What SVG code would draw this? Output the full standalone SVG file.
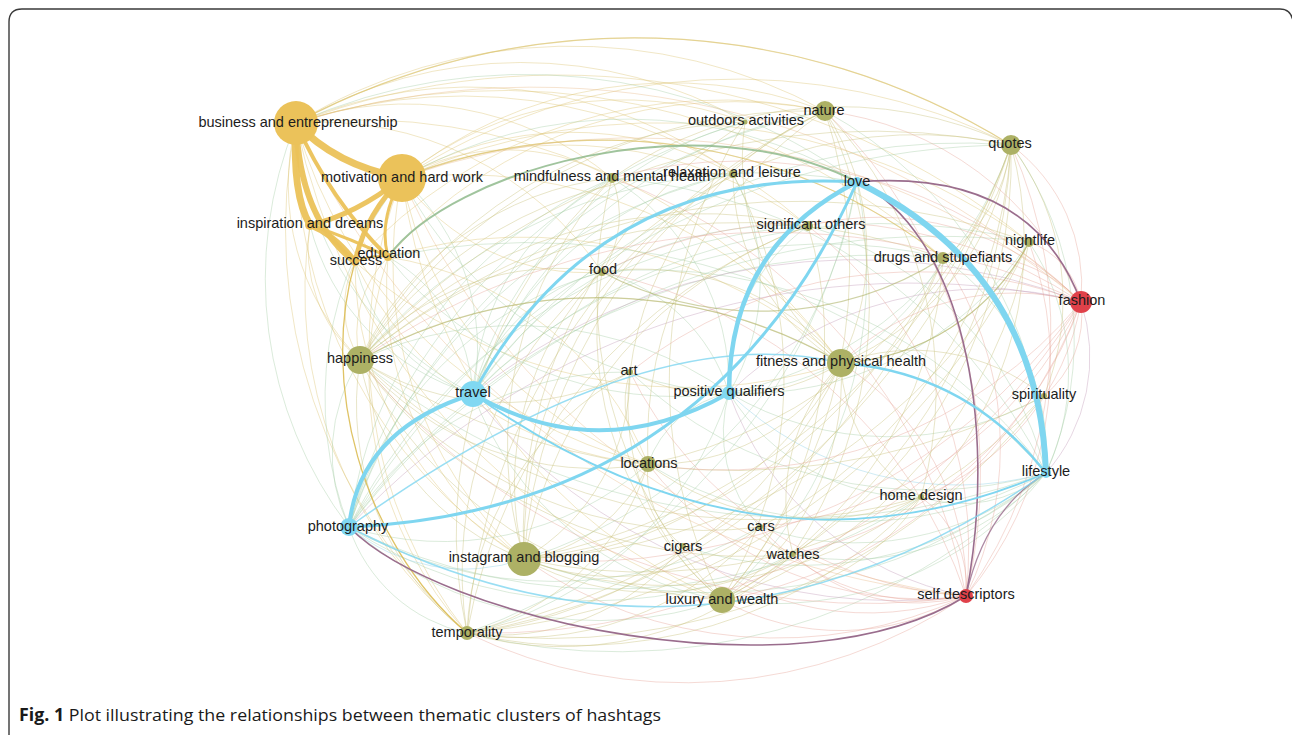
<svg xmlns="http://www.w3.org/2000/svg" width="1292" height="735" viewBox="0 0 1292 735">
<style>
.e path{fill:none;stroke-width:1}
.y path{stroke:#dcc370;stroke-opacity:.4}
.g path{stroke:#a6cca4;stroke-opacity:.4}
.o path{stroke:#c9c27c;stroke-opacity:.42}
.r path{stroke:#e6a396;stroke-opacity:.4}
.ro path{stroke:#e8b886;stroke-opacity:.4}
.p path{stroke:#c7a3bf;stroke-opacity:.45}
.b path{stroke:#9fd8ea;stroke-opacity:.5}
.gold{fill:#EBC25A}
.ol{fill:#ADB165}
.bl{fill:#80D8F2}
.rd{fill:#E0414A}
text.l{font-family:"Liberation Sans",Arial,sans-serif;font-size:14.5px;fill:#1c1c1c;text-anchor:middle}
</style>
<rect width="1292" height="735" fill="#fff"/>
<path d="M9 735V22Q9 9 22 9H1280Q1291 9 1293 21V735" fill="none" stroke="#3a3a3a" stroke-width="1.4"/>
<g id="connectors">
<g class="e y">
<path d="M296 123A715 715 0 0 1 1011 145"/><path d="M402 178A610 610 0 0 1 1011 145"/><path d="M296 123A530 530 0 0 1 825 111"/><path d="M402 178A430 430 0 0 1 825 111"/><path d="M388 257A460 460 0 0 1 825 111"/><path d="M355 262A495 495 0 0 1 825 111"/><path d="M296 123A450 450 0 0 1 745 122"/><path d="M402 178A350 350 0 0 1 745 122"/><path d="M296 123A440 440 0 0 1 733 174"/><path d="M402 178A335 335 0 0 1 733 174"/><path d="M296 123A325 325 0 0 1 612 178"/><path d="M402 178A210 210 0 0 1 612 178"/><path d="M296 123A340 340 0 0 1 602 272"/><path d="M402 178A225 225 0 0 0 602 272"/><path d="M296 123A525 525 0 0 1 808 226"/><path d="M402 178A410 410 0 0 1 808 226"/><path d="M296 123A665 665 0 0 1 943 258"/><path d="M402 178A550 550 0 0 1 943 258"/><path d="M296 123A745 745 0 0 1 1029 242"/><path d="M402 178A630 630 0 0 1 1029 242"/><path d="M296 123A600 600 0 0 1 841 363"/><path d="M402 178A480 480 0 0 1 841 363"/><path d="M388 257A465 465 0 0 1 841 363"/><path d="M355 262A500 500 0 0 0 841 363"/><path d="M296 123A490 490 0 0 0 648 464"/><path d="M402 178A380 380 0 0 0 648 464"/><path d="M355 262A360 360 0 0 0 648 464"/><path d="M388 257A335 335 0 0 1 648 464"/><path d="M310 225A145 145 0 0 0 360 360"/><path d="M355 262A100 100 0 0 0 360 360"/><path d="M388 257A110 110 0 0 0 360 360"/><path d="M360 360A250 250 0 0 1 296 123"/><path d="M467 633A540 540 0 0 1 296 123"/><path d="M467 633A460 460 0 0 1 402 178"/><path d="M467 633A385 385 0 0 1 388 257"/><path d="M467 633A440 440 0 0 1 310 225"/><path d="M524 559A495 495 0 0 1 296 123"/><path d="M524 559A400 400 0 0 1 402 178"/><path d="M524 559A335 335 0 0 1 388 257"/><path d="M524 559A345 345 0 0 1 355 262"/><path d="M722 600A640 640 0 0 1 296 123"/><path d="M722 600A530 530 0 0 1 402 178"/>
</g>
<g class="e g">
<path d="M296 123A565 565 0 0 1 857 182"/><path d="M402 178A455 455 0 0 1 857 182"/><path d="M402 178A395 395 0 0 0 729 393"/><path d="M388 257A370 370 0 0 0 729 393"/><path d="M402 178A230 230 0 0 1 473 394"/><path d="M296 123A325 325 0 0 0 473 394"/><path d="M310 225A235 235 0 0 0 473 394"/><path d="M355 262A180 180 0 0 0 473 394"/><path d="M388 257A165 165 0 0 1 473 394"/><path d="M349 527A410 410 0 0 1 296 123"/><path d="M349 527A355 355 0 0 1 402 178"/><path d="M1046 473A695 695 0 0 0 388 257"/>
<path d="M360 360A370 370 0 0 1 729 393"/><path d="M473 394A260 260 0 0 1 612 178"/><path d="M612 178A245 245 0 0 1 729 393"/><path d="M808 226A190 190 0 0 0 729 393"/><path d="M473 394A375 375 0 0 1 808 226"/><path d="M473 394A490 490 0 0 1 943 258"/><path d="M729 393A255 255 0 0 0 943 258"/><path d="M473 394A580 580 0 0 1 1029 242"/><path d="M729 393A340 340 0 0 0 1029 242"/><path d="M473 394A180 180 0 0 1 602 272"/><path d="M602 272A180 180 0 0 1 729 393"/><path d="M648 464A110 110 0 0 1 729 393"/><path d="M729 393A220 220 0 0 0 921 497"/><path d="M729 393A140 140 0 0 0 760 527"/><path d="M473 394A385 385 0 0 1 745 122"/><path d="M473 394A340 340 0 0 1 733 174"/><path d="M733 174A220 220 0 0 1 729 393"/><path d="M729 393A315 315 0 0 0 1044 396"/><path d="M473 394A600 600 0 0 1 1011 145"/><path d="M729 393A380 380 0 0 0 1011 145"/><path d="M349 527A770 770 0 0 1 1011 145"/><path d="M473 394A455 455 0 0 1 825 111"/><path d="M349 527A635 635 0 0 1 825 111"/>
<path d="M349 527A170 170 0 0 1 360 360"/><path d="M349 527A310 310 0 0 0 648 464"/><path d="M349 527A655 655 0 0 1 943 258"/><path d="M349 527A740 740 0 0 1 1029 242"/><path d="M349 527A550 550 0 0 1 808 226"/><path d="M349 527A440 440 0 0 1 612 178"/><path d="M349 527A360 360 0 0 1 602 272"/><path d="M349 527A325 325 0 0 1 630 372"/><path d="M349 527A575 575 0 0 0 921 497"/><path d="M349 527A415 415 0 0 0 760 527"/><path d="M349 527A445 445 0 0 0 793 554"/><path d="M349 527A160 160 0 0 0 467 633"/><path d="M349 527A570 570 0 0 1 745 122"/><path d="M349 527A525 525 0 0 1 733 174"/><path d="M722 600A380 380 0 0 1 349 527"/><path d="M722 600A325 325 0 0 1 473 394"/>
<path d="M1046 473A330 330 0 0 0 1011 145"/><path d="M1046 473A425 425 0 0 0 825 111"/><path d="M360 360A695 695 0 0 0 1046 473"/><path d="M524 559A530 530 0 0 0 1046 473"/><path d="M722 600A350 350 0 0 0 1046 473"/><path d="M1046 473A400 400 0 0 1 648 464"/><path d="M1046 473A130 130 0 0 1 921 497"/><path d="M1046 473A525 525 0 0 0 612 178"/><path d="M1046 473A490 490 0 0 0 602 272"/><path d="M1046 473A240 240 0 0 0 943 258"/><path d="M1046 473A345 345 0 0 0 808 226"/><path d="M1046 473A295 295 0 0 1 760 527"/><path d="M1046 473A270 270 0 0 1 793 554"/><path d="M1046 473A370 370 0 0 1 683 546"/><path d="M1046 473A235 235 0 0 0 1029 242"/><path d="M1046 473A430 430 0 0 1 630 372"/><path d="M467 633A605 605 0 0 0 1046 473"/><path d="M467 633A360 360 0 0 0 729 393"/><path d="M360 360A520 520 0 0 1 857 182"/><path d="M524 559A480 480 0 0 0 857 182"/><path d="M722 600A440 440 0 0 0 857 182"/><path d="M467 633A600 600 0 0 0 857 182"/>
</g>
<g class="e b">
<path d="M349 527A180 180 0 0 0 524 559"/><path d="M1046 473A330 330 0 0 1 729 393"/>
</g>
<g class="e p">
<path d="M1081 302A615 615 0 0 0 473 394"/><path d="M1081 302A365 365 0 0 0 729 393"/><path d="M1081 302A770 770 0 0 0 349 527"/><path d="M966 596A535 535 0 0 1 473 394"/><path d="M966 596A315 315 0 0 1 729 393"/><path d="M1081 302A175 175 0 0 1 1046 473"/>
</g>
<g class="e o">
<path d="M360 360A690 690 0 0 1 1011 145"/><path d="M524 559A640 640 0 0 0 1011 145"/><path d="M648 464A490 490 0 0 0 1011 145"/><path d="M722 600A540 540 0 0 0 1011 145"/><path d="M467 633A730 730 0 0 0 1011 145"/><path d="M841 363A280 280 0 0 0 1011 145"/><path d="M921 497A365 365 0 0 0 1011 145"/><path d="M612 178A400 400 0 0 1 1011 145"/><path d="M602 272A430 430 0 0 1 1011 145"/><path d="M793 554A465 465 0 0 0 1011 145"/><path d="M1044 396A255 255 0 0 0 1011 145"/><path d="M760 527A460 460 0 0 0 1011 145"/><path d="M943 258A160 160 0 0 0 1011 145"/>
<path d="M360 360A530 530 0 0 1 825 111"/><path d="M524 559A540 540 0 0 1 825 111"/><path d="M648 464A400 400 0 0 1 825 111"/><path d="M722 600A500 500 0 0 0 825 111"/><path d="M467 633A635 635 0 0 1 825 111"/><path d="M841 363A255 255 0 0 0 825 111"/><path d="M921 497A400 400 0 0 0 825 111"/><path d="M630 372A330 330 0 0 1 825 111"/><path d="M793 554A445 445 0 0 0 825 111"/>
<path d="M360 360A485 485 0 0 1 841 363"/><path d="M360 360A310 310 0 0 0 648 464"/><path d="M360 360A435 435 0 0 0 722 600"/><path d="M360 360A595 595 0 0 1 943 258"/><path d="M360 360A680 680 0 0 1 1029 242"/><path d="M360 360A470 470 0 0 1 808 226"/><path d="M360 360A420 420 0 0 1 733 174"/><path d="M360 360A455 455 0 0 1 745 122"/><path d="M360 360A315 315 0 0 1 612 178"/><path d="M360 360A260 260 0 0 1 602 272"/><path d="M360 360A270 270 0 0 0 630 372"/><path d="M360 360A435 435 0 0 0 760 527"/><path d="M360 360A475 475 0 0 0 793 554"/><path d="M360 360A580 580 0 0 0 921 497"/><path d="M360 360A685 685 0 0 0 1044 396"/><path d="M360 360A260 260 0 0 0 524 559"/><path d="M360 360A290 290 0 0 0 467 633"/>
<path d="M467 633A480 480 0 0 1 612 178"/><path d="M467 633A390 390 0 0 1 602 272"/><path d="M467 633A310 310 0 0 1 630 372"/><path d="M467 633A250 250 0 0 0 648 464"/><path d="M467 633A465 465 0 0 0 841 363"/><path d="M467 633A535 535 0 0 1 808 226"/><path d="M467 633A610 610 0 0 0 943 258"/><path d="M467 633A685 685 0 0 0 1029 242"/><path d="M467 633A475 475 0 0 0 921 497"/><path d="M467 633A315 315 0 0 0 760 527"/><path d="M467 633A335 335 0 0 0 793 554"/><path d="M467 633A235 235 0 0 0 683 546"/><path d="M467 633A625 625 0 0 0 1044 396"/>
<path d="M524 559A395 395 0 0 1 612 178"/><path d="M524 559A300 300 0 0 1 602 272"/><path d="M524 559A215 215 0 0 0 630 372"/><path d="M524 559A375 375 0 0 0 841 363"/><path d="M524 559A440 440 0 0 1 808 226"/><path d="M524 559A520 520 0 0 0 943 258"/><path d="M524 559A600 600 0 0 0 1029 242"/><path d="M524 559A405 405 0 0 0 921 497"/><path d="M524 559A545 545 0 0 0 1044 396"/><path d="M524 559A240 240 0 0 0 760 527"/><path d="M524 559A270 270 0 0 0 793 554"/><path d="M524 559A490 490 0 0 1 745 122"/><path d="M524 559A440 440 0 0 1 733 174"/><path d="M524 559A160 160 0 0 0 648 464"/>
<path d="M722 600A440 440 0 0 1 612 178"/><path d="M722 600A350 350 0 0 1 602 272"/><path d="M722 600A250 250 0 0 1 630 372"/><path d="M722 600A265 265 0 0 0 841 363"/><path d="M722 600A410 410 0 0 0 943 258"/><path d="M722 600A475 475 0 0 0 1029 242"/><path d="M722 600A225 225 0 0 0 921 497"/><path d="M722 600A385 385 0 0 0 808 226"/><path d="M722 600A480 480 0 0 1 745 122"/><path d="M722 600A430 430 0 0 0 733 174"/>
<path d="M612 178A100 100 0 0 1 602 272"/><path d="M602 272A260 260 0 0 1 841 363"/><path d="M630 372A215 215 0 0 0 841 363"/><path d="M630 372A95 95 0 0 0 648 464"/><path d="M648 464A220 220 0 0 0 841 363"/><path d="M921 497A160 160 0 0 1 841 363"/><path d="M648 464A275 275 0 0 0 921 497"/><path d="M760 527A45 45 0 0 0 793 554"/><path d="M648 464A90 90 0 0 0 683 546"/><path d="M841 363A200 200 0 0 0 793 554"/><path d="M745 122A260 260 0 0 0 841 363"/><path d="M733 174A220 220 0 0 0 841 363"/><path d="M841 363A210 210 0 0 1 1044 396"/><path d="M841 363A225 225 0 0 0 1029 242"/>
</g>
<g class="e r">
<path d="M966 596A650 650 0 0 1 360 360"/><path d="M966 596A265 265 0 0 0 841 363"/><path d="M966 596A345 345 0 0 1 648 464"/><path d="M966 596A405 405 0 0 1 630 372"/><path d="M966 596A490 490 0 0 0 602 272"/><path d="M966 596A340 340 0 0 0 943 258"/><path d="M966 596A360 360 0 0 0 1029 242"/><path d="M966 596A110 110 0 0 0 921 497"/><path d="M966 596A220 220 0 0 1 760 527"/><path d="M966 596A180 180 0 0 1 793 554"/><path d="M966 596A290 290 0 0 1 683 546"/><path d="M966 596A405 405 0 0 0 808 226"/><path d="M966 596A550 550 0 0 0 612 178"/><path d="M524 559A445 445 0 0 0 966 596"/><path d="M467 633A500 500 0 0 0 966 596"/><path d="M722 600A245 245 0 0 0 966 596"/><path d="M966 596A455 455 0 0 0 1011 145"/><path d="M966 596A505 505 0 0 0 825 111"/>
<path d="M1081 302A725 725 0 0 0 360 360"/><path d="M1081 302A250 250 0 0 0 841 363"/><path d="M1081 302A615 615 0 0 1 524 559"/><path d="M1081 302A470 470 0 0 1 722 600"/><path d="M1081 302A465 465 0 0 1 648 464"/><path d="M1081 302A460 460 0 0 0 630 372"/><path d="M1081 302A480 480 0 0 0 602 272"/><path d="M1081 302A150 150 0 0 0 943 258"/><path d="M1081 302A285 285 0 0 0 808 226"/><path d="M1081 302A255 255 0 0 1 921 497"/><path d="M1081 302A105 105 0 0 1 1044 396"/><path d="M1081 302A175 175 0 0 0 1011 145"/><path d="M1081 302A485 485 0 0 0 612 178"/><path d="M1081 302A385 385 0 0 1 793 554"/><path d="M1081 302A395 395 0 0 1 760 527"/><path d="M467 633A700 700 0 0 0 1081 302"/><path d="M825 111A320 320 0 0 1 1081 302"/><path d="M1029 242A80 80 0 0 1 1081 302"/>
</g>
<g class="e ro">
<path d="M966 596A820 820 0 0 1 296 123"/><path d="M966 596A705 705 0 0 1 402 178"/><path d="M1081 302A805 805 0 0 0 296 123"/><path d="M1081 302A690 690 0 0 0 402 178"/>
</g>
<g fill="none">
<path d="M602 272A340 340 0 0 0 943 258" stroke="#a8ad5c" stroke-opacity=".55" stroke-width="1.3"/>
<path d="M360 360A485 485 0 0 1 841 363" stroke="#a8ad5c" stroke-opacity=".45" stroke-width="1.3"/>
<path d="M402 178A550 550 0 0 1 943 258" stroke="#d8bd5c" stroke-opacity=".55" stroke-width="1.2"/>
<path d="M296 123A715 715 0 0 1 1011 145" stroke="#d8bd5c" stroke-opacity=".5" stroke-width="1.2"/>
<path d="M841 363A225 225 0 0 0 1029 242" stroke="#a8ad5c" stroke-opacity=".5" stroke-width="1.2"/>
<path d="M355 262C320 380 360 540 467 633" stroke="#d9b84a" stroke-opacity=".85" stroke-width="1.3"/>
<path d="M388 257C450 170 700 100 857 182" stroke="#8fba8c" stroke-opacity=".85" stroke-width="2"/>
<path d="M857 182Q1031 168 1081 302" stroke="#9a6d8d" stroke-width="1.6"/>
<path d="M857 182C960 230 1000 420 966 596" stroke="#9a6d8d" stroke-width="1.6"/>
<path d="M349 527C440 620 800 700 966 596" stroke="#9a6d8d" stroke-width="1.6"/>
<path d="M1046 473Q985 510 966 596" stroke="#9a6d8d" stroke-opacity=".8" stroke-width="1.3"/>
</g>
<g fill="none" stroke="#EBC25A" stroke-opacity=".95" stroke-linecap="round">
<path d="M296 123Q335 165 402 178" stroke-width="7"/>
<path d="M296 123Q292 195 310 225" stroke-width="7"/>
<path d="M296 123Q300 220 355 262" stroke-width="6"/>
<path d="M296 123Q330 200 388 257" stroke-width="4"/>
<path d="M402 178Q355 215 310 225" stroke-width="5"/>
<path d="M402 178Q365 215 355 262" stroke-width="5"/>
<path d="M402 178Q378 220 388 257" stroke-width="3"/>
<path d="M310 225Q335 235 355 262" stroke-width="6"/>
<path d="M310 225Q355 240 388 257" stroke-width="3"/>
<path d="M355 262Q372 254 388 257" stroke-width="2"/>
</g>
<g fill="none" stroke="#7FD6F0">
<path d="M349 527Q703 710 1046 473" stroke-width="1.5" stroke-opacity=".8"/>
<path d="M349 527Q645 315 841 363" stroke-width="1.5" stroke-opacity=".8"/>
<path d="M841 363Q966 372 1046 473" stroke-width="2.5"/>
<path d="M473 394Q760 596 1046 473" stroke-width="1.8"/>
<path d="M349 527Q709 511 857 182" stroke-width="3"/>
<path d="M473 394Q359 430 349 527" stroke-width="4"/>
<path d="M473 394Q599 467 729 393" stroke-width="4"/>
<path d="M857 182Q597 166 473 394" stroke-width="3"/>
<path d="M857 182Q729 247 729 393" stroke-width="4.5"/>
<path d="M857 182Q1039 271 1046 473" stroke-width="6"/>
</g>
</g>
<g id="n-business"><circle class="gold" cx="296" cy="123" r="22"/><text class="l" x="298" y="127">business and entrepreneurship</text></g>
<g id="n-motivation"><circle class="gold" cx="402" cy="178" r="24"/><text class="l" x="402" y="182">motivation and hard work</text></g>
<g id="n-instagram"><circle class="ol" cx="524" cy="559" r="17"/><text class="l" x="524" y="562">instagram and blogging</text></g>
<g id="n-happiness"><circle class="ol" cx="360" cy="360" r="14"/><text class="l" x="360" y="363">happiness</text></g>
<g id="n-fitness"><circle class="ol" cx="841" cy="363" r="14"/><text class="l" x="841" y="366">fitness and physical health</text></g>
<g id="n-luxury"><circle class="ol" cx="722" cy="600" r="13"/><text class="l" x="722" y="604">luxury and wealth</text></g>
<g id="n-travel"><circle class="bl" cx="473" cy="394" r="13"/><text class="l" x="473" y="397">travel</text></g>
<g id="n-fashion"><circle class="rd" cx="1081" cy="302" r="11"/><text class="l" x="1082" y="305">fashion</text></g>
<g id="n-nature"><circle class="ol" cx="825" cy="111" r="10"/><text class="l" x="824" y="115">nature</text></g>
<g id="n-quotes"><circle class="ol" cx="1011" cy="145" r="10"/><text class="l" x="1010" y="148">quotes</text></g>
<g id="n-photography"><circle class="bl" cx="349" cy="527" r="9"/><text class="l" x="348" y="531">photography</text></g>
<g id="n-locations"><circle class="ol" cx="648" cy="464" r="8"/><text class="l" x="649" y="468">locations</text></g>
<g id="n-positive"><circle class="bl" cx="729" cy="393" r="7"/><text class="l" x="729" y="396">positive qualifiers</text></g>
<g id="n-temporality"><circle class="ol" cx="467" cy="633" r="7"/><text class="l" x="467" y="637">temporality</text></g>
<g id="n-selfdesc"><circle class="rd" cx="966" cy="596" r="7"/><text class="l" x="966" y="599">self descriptors</text></g>
<g id="n-drugs"><circle class="ol" cx="943" cy="258" r="6"/><text class="l" x="943" y="262">drugs and stupefiants</text></g>
<g id="n-mindfulness"><circle class="ol" cx="612" cy="178" r="5"/><text class="l" x="612" y="181">mindfulness and mental health</text></g>
<g id="n-relaxation"><circle class="ol" cx="733" cy="174" r="4"/><text class="l" x="732" y="177">relaxation and leisure</text></g>
<g id="n-outdoors"><circle class="ol" cx="745" cy="122" r="2.5"/><text class="l" x="746" y="125">outdoors activities</text></g>
<g id="n-love"><circle class="bl" cx="857" cy="182" r="5"/><text class="l" x="857" y="186">love</text></g>
<g id="n-significant"><circle class="ol" cx="808" cy="226" r="5"/><text class="l" x="811" y="229">significant others</text></g>
<g id="n-nightlife"><circle class="ol" cx="1029" cy="242" r="5"/><text class="l" x="1030" y="245">nightlife</text></g>
<g id="n-food"><circle class="ol" cx="602" cy="272" r="4"/><text class="l" x="603" y="274">food</text></g>
<g id="n-art"><circle class="ol" cx="630" cy="372" r="3"/><text class="l" x="629" y="375">art</text></g>
<g id="n-spirituality"><circle class="ol" cx="1044" cy="396" r="3"/><text class="l" x="1044" y="399">spirituality</text></g>
<g id="n-lifestyle"><circle class="bl" cx="1046" cy="473" r="5"/><text class="l" x="1046" y="476">lifestyle</text></g>
<g id="n-homedesign"><circle class="ol" cx="921" cy="497" r="3"/><text class="l" x="921" y="500">home design</text></g>
<g id="n-cars"><circle class="ol" cx="760" cy="527" r="3"/><text class="l" x="761" y="531">cars</text></g>
<g id="n-cigars"><circle class="ol" cx="683" cy="546" r="3"/><text class="l" x="683" y="551">cigars</text></g>
<g id="n-watches"><circle class="ol" cx="793" cy="554" r="3"/><text class="l" x="793" y="559">watches</text></g>
<g id="n-inspiration"><circle class="gold" cx="310" cy="225" r="5"/><text class="l" x="310" y="228">inspiration and dreams</text></g>
<g id="n-success"><circle class="gold" cx="355" cy="262" r="4"/><text class="l" x="356" y="265">success</text></g>
<g id="n-education"><circle class="gold" cx="388" cy="257" r="4"/><text class="l" x="389" y="258">education</text></g>
<text x="19" y="721" textLength="642" lengthAdjust="spacingAndGlyphs" font-family="'Open Sans','Liberation Sans',sans-serif" font-size="17" fill="#1a1a1a"><tspan font-weight="bold">Fig. 1</tspan> Plot illustrating the relationships between thematic clusters of hashtags</text>
</svg>
